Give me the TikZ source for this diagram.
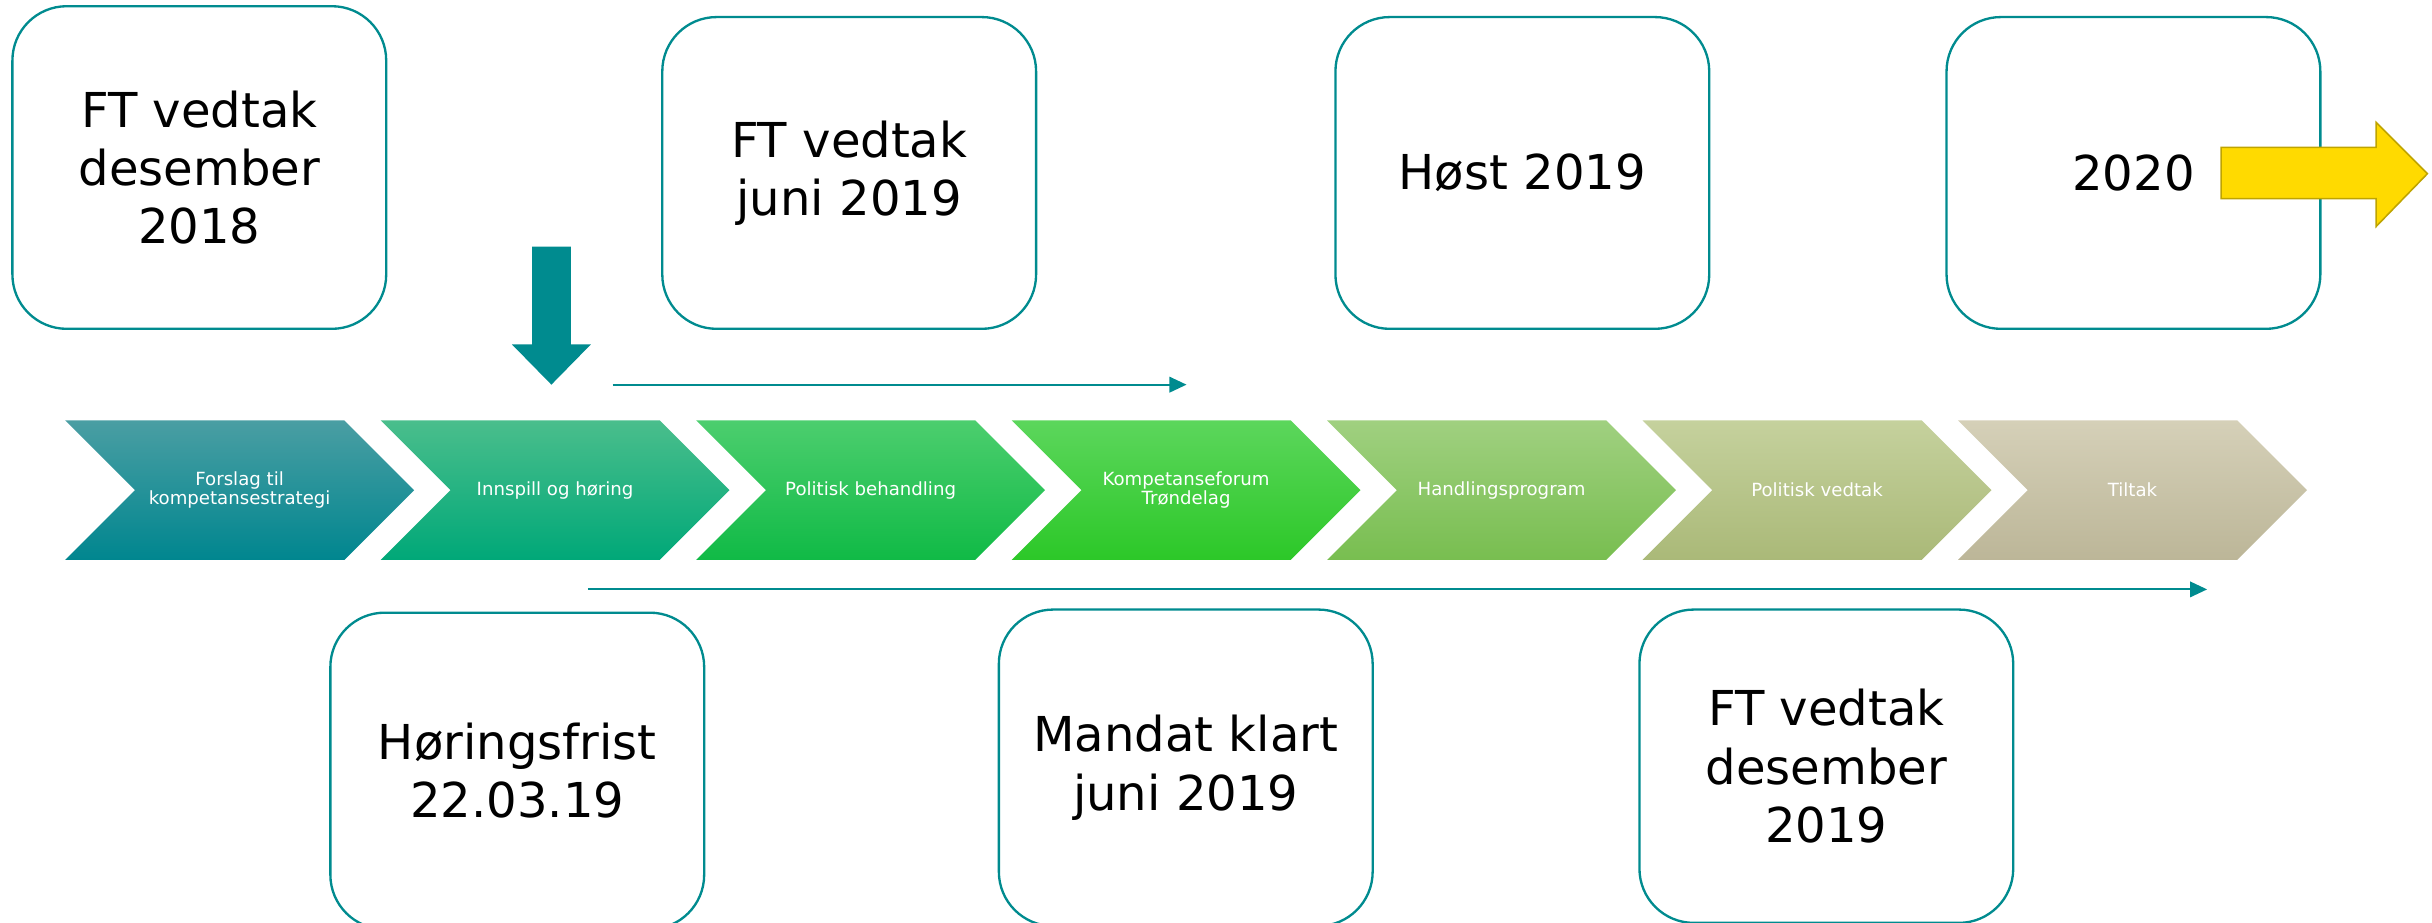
\documentclass[tikz,border=0pt]{standalone}
\usepackage{fontspec}
\setmainfont{DejaVu Sans}
\usetikzlibrary{arrows.meta, positioning}

\definecolor{teal1}{RGB}{0,139,143}
\definecolor{gold1}{RGB}{255,218,0}
\definecolor{gold2}{RGB}{191,164,0}

\begin{document}
\begin{tikzpicture}[x=1pt, y=-1pt, >={Triangle[length=11pt,width=10pt]}]
    \tikzstyle{datebox}=[draw=teal1, line width=1.5pt, rounded corners=35pt, fill=white,
        minimum width=241pt, inner sep=0pt, align=center, font=\fontsize{31}{37.5}\selectfont]
    \tikzstyle{steptext}=[text=white, align=center, font=\fontsize{11.7}{12.5}\selectfont]
    \tikzstyle{timeline}=[->, draw=teal1, line width=1.3pt]

    \useasboundingbox (0,0) rectangle (1568,595);

    % chevrons
    \foreach \i/\txt/\ctop/\cbot in {
        0/{Forslag til\\kompetansestrategi}/{74,158,163}/{0,134,143},
        1/{Innspill og høring}/{74,190,140}/{0,168,120},
        2/{Politisk behandling}/{76,206,110}/{16,186,70},
        3/{Kompetanseforum\\Trøndelag}/{92,214,92}/{44,200,40},
        4/{Handlingsprogram}/{160,208,128}/{120,190,80},
        5/{Politisk vedtak}/{197,209,157}/{170,185,120},
        6/{Tiltak}/{213,208,184}/{188,182,152}} {
        \definecolor{ctop}{RGB}{\ctop}
        \definecolor{cbot}{RGB}{\cbot}
        \pgfmathsetmacro{\xa}{42+203.4*\i}
        \shade[top color=ctop, bottom color=cbot]
            (\xa,271) -- ++(180,0) -- ++(45,45) -- ++(-45,45) -- ++(-180,0) -- ++(45,-45) -- cycle;
        \node[steptext] (step\i) at (\xa+112.5,316) {\txt};
    }

    % date boxes
    \node[datebox, minimum height=208pt] (ft18)   at (128.5,108)  {FT vedtak\\desember\\2018};
    \node[datebox, minimum height=201pt] (ftjuni) at (547.5,111.5) {FT vedtak\\juni 2019};
    \node[datebox, minimum height=201pt] (host)   at (981.5,111.5) {Høst 2019};
    \node[datebox, minimum height=201pt] (y2020)  at (1375.5,111.5) {2020};
    \node[datebox, minimum height=204pt] (frist)  at (333.5,497)  {Høringsfrist\\22.03.19};
    \node[datebox, minimum height=204pt] (mandat) at (764.5,495)  {Mandat klart\\juni 2019};
    \node[datebox, minimum height=202pt] (ft19)   at (1177.5,494) {FT vedtak\\desember\\2019};

    % arrows
    \fill[teal1] (343,159) -- (368,159) -- (368,222) -- (381,222) -- (355.5,248) -- (330,222) -- (343,222) -- cycle;
    \draw[fill=gold1, draw=gold2, line width=1pt]
        (1432,95) -- (1532,95) -- (1532,79) -- (1565,112) -- (1532,146) -- (1532,128) -- (1432,128) -- cycle;

    \coordinate (ta) at (395,248);
    \coordinate (tb) at (765,248);
    \coordinate (ba) at (379,380);
    \coordinate (bb) at (1423,380);
    \draw[timeline] (ta) -- (tb);
    \draw[timeline] (ba) -- (bb);
\end{tikzpicture}
\end{document}
